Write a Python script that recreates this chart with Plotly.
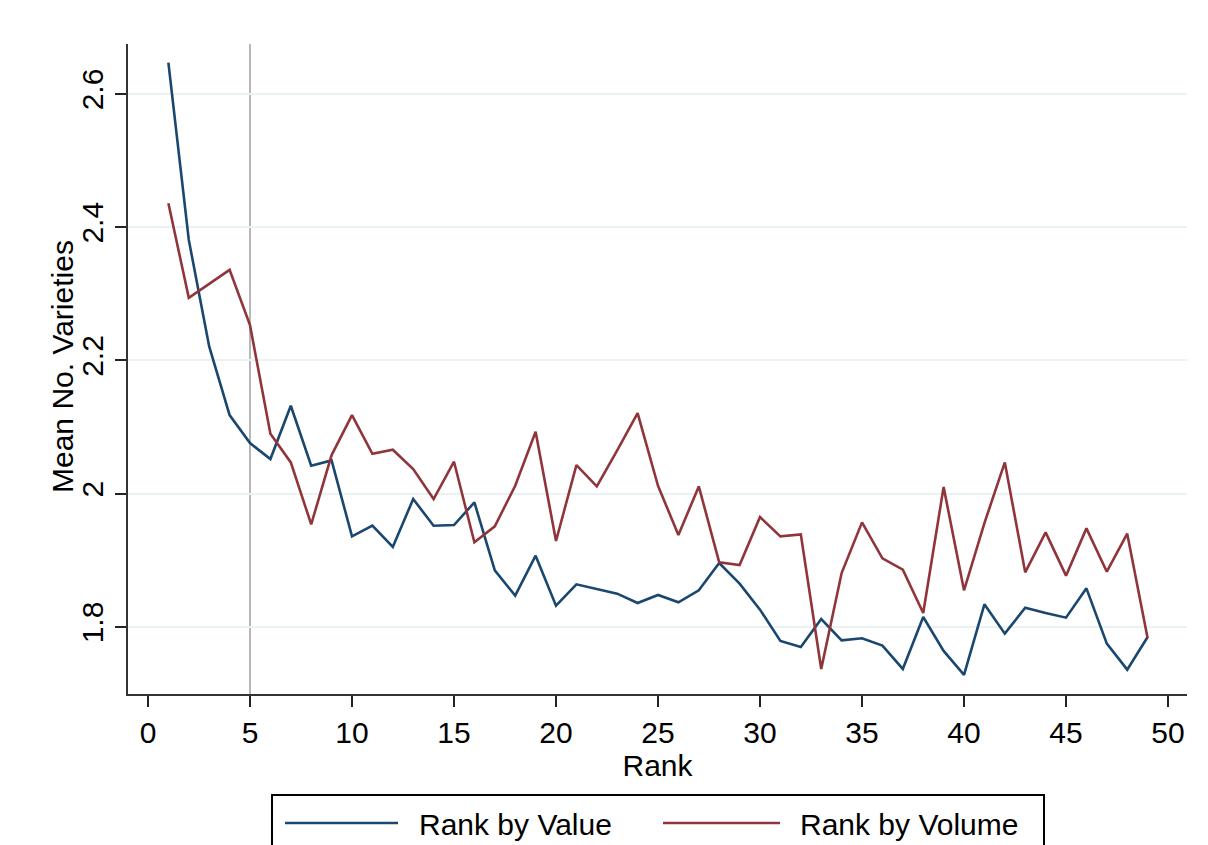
import plotly.graph_objects as go

# Mean number of varieties by rank position
rank = list(range(1, 50))

rank_by_value = [
    2.647, 2.381, 2.221, 2.118, 2.076, 2.052, 2.132, 2.042, 2.050, 1.936,
    1.952, 1.920, 1.992, 1.952, 1.953, 1.987, 1.885, 1.847, 1.907, 1.832,
    1.864, 1.857, 1.850, 1.836, 1.848, 1.837, 1.855, 1.896, 1.865, 1.826,
    1.779, 1.770, 1.812, 1.780, 1.783, 1.772, 1.737, 1.815, 1.764, 1.728,
    1.834, 1.790, 1.829, 1.821, 1.814, 1.858, 1.775, 1.736, 1.785,
]

rank_by_volume = [
    2.436, 2.294, 2.315, 2.336, 2.253, 2.090, 2.047, 1.954, 2.058, 2.118,
    2.060, 2.066, 2.037, 1.992, 2.048, 1.927, 1.951, 2.012, 2.093, 1.929,
    2.043, 2.011, 2.065, 2.121, 2.012, 1.938, 2.011, 1.897, 1.893, 1.965,
    1.936, 1.939, 1.737, 1.881, 1.957, 1.903, 1.886, 1.821, 2.010, 1.855,
    1.956, 2.047, 1.882, 1.942, 1.877, 1.948, 1.883, 1.940, 1.783,
]

series_names = ["Rank by Value", "Rank by Volume"]
series_colors = ["#1a476f", "#90353b"]

x_ticks = [0, 5, 10, 15, 20, 25, 30, 35, 40, 45, 50]
y_ticks = [1.8, 2.0, 2.2, 2.4, 2.6]
y_tick_text = ["1.8", "2", "2.2", "2.4", "2.6"]
cutoff_rank = 5

FONT = "Liberation Sans, Arial, sans-serif"
FS = 30

fig = go.Figure()
for name, ys, col in zip(series_names, [rank_by_value, rank_by_volume], series_colors):
    fig.add_trace(go.Scatter(
        x=rank, y=ys, mode="lines", name=name,
        line=dict(color=col, width=2.6), showlegend=False,
    ))

# vertical reference line at the cutoff rank
fig.add_shape(type="line", xref="x", yref="paper", x0=cutoff_rank, x1=cutoff_rank,
              y0=0, y1=1, line=dict(color="#a6a6a6", width=1.6), layer="below")

# legend drawn below the plot with long line samples
W, H = 1208, 845
L, R, T, B = 128, 21, 44, 151
pw, ph = W - L - R, H - T - B


def px_x(px):
    return (px - L) / pw


def px_y(py):
    return (H - B - py) / ph


fig.add_shape(type="rect", xref="paper", yref="paper",
              x0=px_x(272), x1=px_x(1044), y0=px_y(795), y1=px_y(880),
              line=dict(color="black", width=2), fillcolor="white")
legend_items = [(285, 398, 417), (663, 780, 798)]
for (lx0, lx1, tx), name, col in zip(legend_items, series_names, series_colors):
    fig.add_shape(type="line", xref="paper", yref="paper",
                  x0=px_x(lx0), x1=px_x(lx1), y0=px_y(823), y1=px_y(823),
                  line=dict(color=col, width=2.6))
    fig.add_annotation(xref="paper", yref="paper", x=px_x(tx), y=px_y(824),
                       text=name, showarrow=False, xanchor="left", yanchor="middle",
                       font=dict(family=FONT, size=FS, color="black"))

# y-axis title
fig.add_annotation(xref="paper", yref="paper", x=px_x(62), y=px_y(367),
                   text="Mean No. Varieties", textangle=-90, showarrow=False,
                   xanchor="center", yanchor="middle",
                   font=dict(family=FONT, size=FS, color="black"))

fig.update_layout(
    width=W, height=H,
    margin=dict(l=L, r=R, t=T, b=B, pad=0),
    paper_bgcolor="white", plot_bgcolor="white",
    font=dict(family=FONT, size=FS, color="black"),
    xaxis=dict(
        range=[-0.98, 50.93], tickmode="array", tickvals=x_ticks,
        ticks="outside", ticklen=11, tickwidth=2, tickcolor="#222",
        showline=True, linecolor="#333", linewidth=2, showgrid=False, zeroline=False,
        title=dict(text="Rank", font=dict(size=FS), standoff=0),
        tickfont=dict(size=FS),
    ),
    yaxis=dict(
        range=[1.6994, 2.675], tickmode="array", tickvals=y_ticks, ticktext=y_tick_text,
        tickangle=-90,
        ticks="outside", ticklen=11, tickwidth=2, tickcolor="#222",
        showline=True, linecolor="#333", linewidth=2,
        showgrid=True, gridcolor="#eaf2f3", gridwidth=2, zeroline=False,
        tickfont=dict(size=FS),
    ),
)

fig.write_html("out.html")
